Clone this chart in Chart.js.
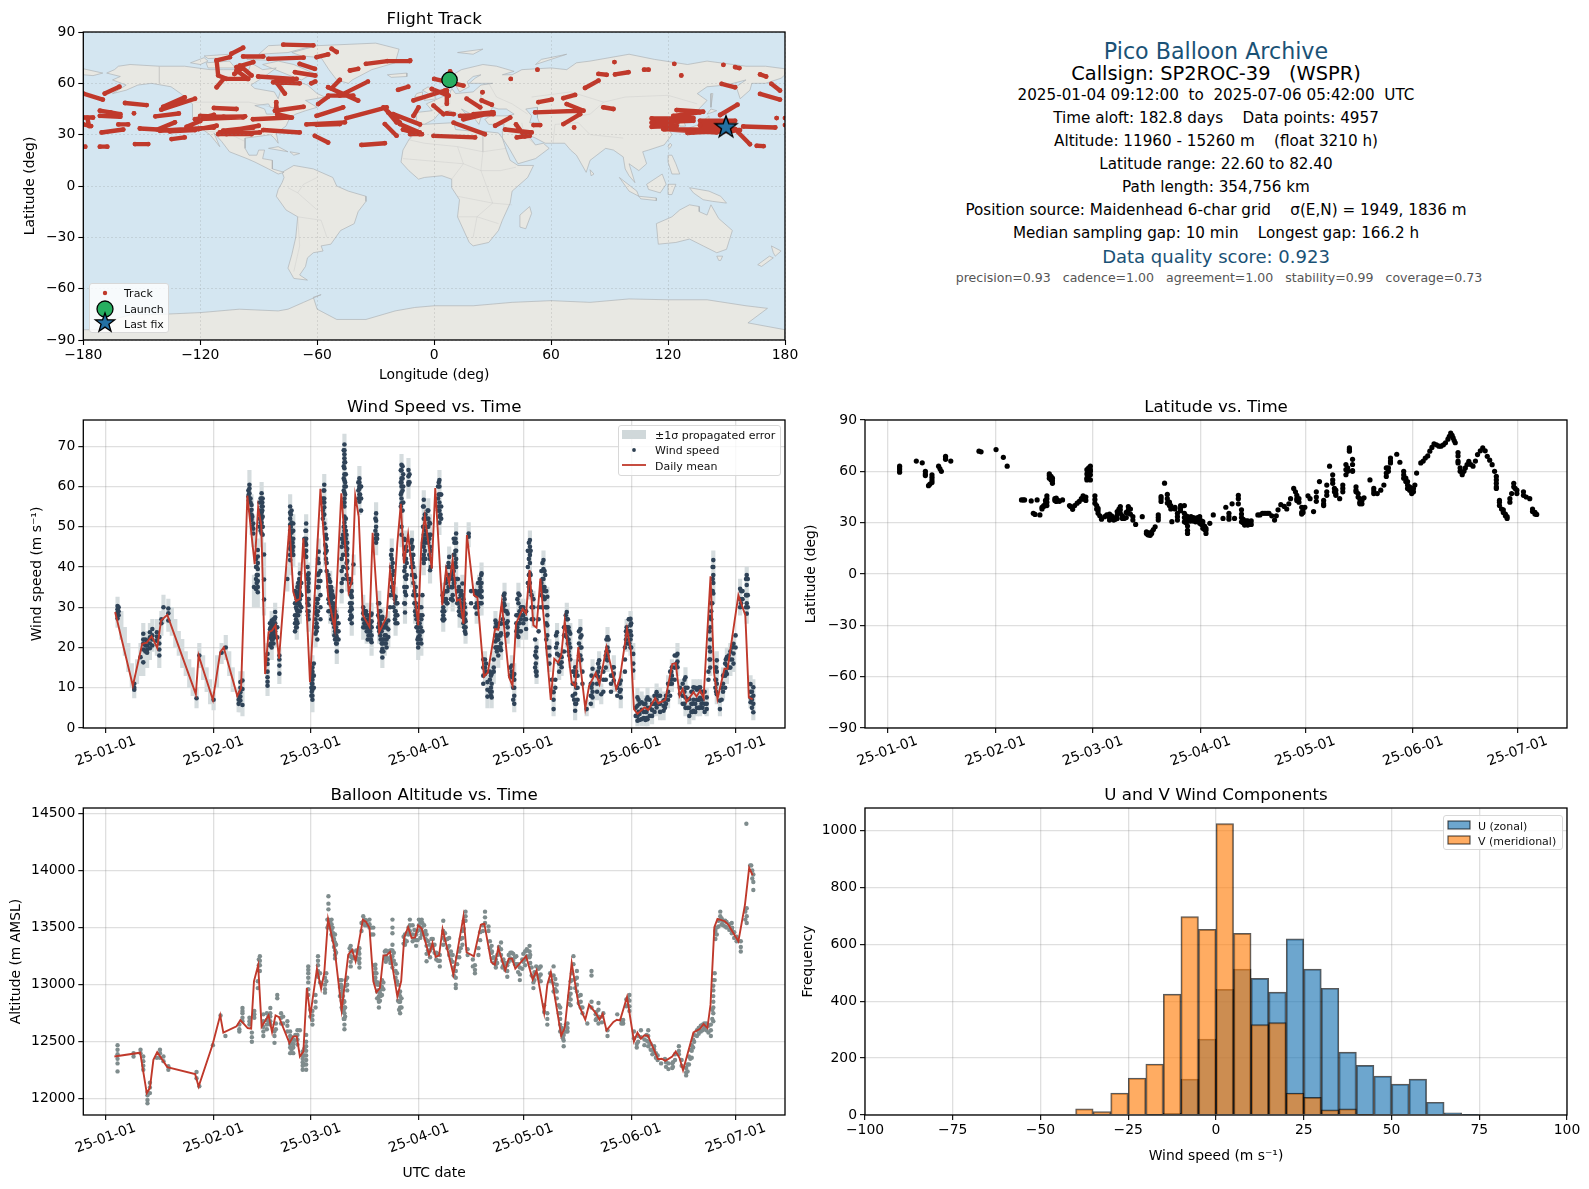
<!DOCTYPE html>
<html>
<head>
<meta charset="utf-8">
<title>Pico Balloon Archive</title>
<script src="https://cdn.jsdelivr.net/npm/chart.js@4/dist/chart.umd.min.js"></script>
<style>
  html, body { margin: 0; background: #fff; }
  body { position: relative; width: 1589px; height: 1189px; overflow: hidden; font-family: "DejaVu Sans", sans-serif; color: #000; }
  canvas { position: absolute; display: block; }
  .info { position: absolute; left: 865px; width: 702px; text-align: center; white-space: pre; transform: translateY(-50%); }
  .legend { position: absolute; z-index: 5; background: rgba(255,255,255,0.8); border: 1px solid #d8d8d8; border-radius: 3px; box-sizing: border-box; }
  .legend div { position: absolute; white-space: pre; transform: translateY(-50%); color: #111; }
  .legend svg { position: absolute; overflow: visible; }
</style>
</head>
<body>
<canvas id="mapChart" width="800" height="378" style="left:0;top:6px"></canvas>
<canvas id="windChart" width="800" height="382" style="left:0;top:394px"></canvas>
<canvas id="latChart" width="789" height="382" style="left:800px;top:394px"></canvas>
<canvas id="altChart" width="800" height="403" style="left:0;top:782px"></canvas>
<canvas id="histChart" width="789" height="383" style="left:800px;top:782px"></canvas>

<div id="infoPanel"></div>

<div class="legend" style="left:89px;top:283px;width:80px;height:50px;font-size:11px">
  <svg width="30" height="50" style="left:0;top:0">
    <circle cx="15" cy="9" r="2.2" fill="#c0392b"/>
    <circle cx="15" cy="25" r="8" fill="#27ae60" stroke="#000" stroke-width="1.3"/>
    <polygon points="15,29 17.4,35.8 24.6,35.9 18.9,40.3 21,47.2 15,43.1 9,47.2 11.1,40.3 5.4,35.9 12.6,35.8" fill="#2471a3" stroke="#000" stroke-width="1.3"/>
  </svg>
  <div style="left:34px;top:9px">Track</div>
  <div style="left:34px;top:25px">Launch</div>
  <div style="left:34px;top:40px">Last fix</div>
</div>

<div class="legend" style="left:618px;top:425px;width:163px;height:51px;font-size:11px">
  <svg width="30" height="50" style="left:0;top:0">
    <rect x="3" y="4" width="24" height="9" fill="#d0d8da"/>
    <circle cx="15" cy="24" r="1.9" fill="#2c3e50"/>
    <line x1="3" y1="39" x2="27" y2="39" stroke="#c0392b" stroke-width="1.8"/>
  </svg>
  <div style="left:36px;top:9px">±1σ propagated error</div>
  <div style="left:36px;top:24px">Wind speed</div>
  <div style="left:36px;top:40px">Daily mean</div>
</div>

<div class="legend" style="left:1443px;top:815px;width:120px;height:35px;font-size:11px">
  <svg width="30" height="35" style="left:0;top:0">
    <rect x="4" y="5" width="22" height="8" fill="rgba(31,119,180,0.65)" stroke="rgba(0,0,0,0.65)" stroke-width="1.2"/>
    <rect x="4" y="20" width="22" height="8" fill="rgba(255,127,14,0.65)" stroke="rgba(0,0,0,0.65)" stroke-width="1.2"/>
  </svg>
  <div style="left:34px;top:10px">U (zonal)</div>
  <div style="left:34px;top:25px">V (meridional)</div>
</div>

<script>
const monthDays = [0, 31, 59, 90, 120, 151, 181];
const monthLabels = ["25-01-01", "25-02-01", "25-03-01", "25-04-01", "25-05-01", "25-06-01", "25-07-01"];
const lonTicks = [-180, -120, -60, 0, 60, 120, 180];
const latTicks = [-90, -60, -30, 0, 30, 60, 90];
const windTicks = [0, 10, 20, 30, 40, 50, 60, 70];
const altTicks = [12000, 12500, 13000, 13500, 14000, 14500];
const histXTicks = [-100, -75, -50, -25, 0, 25, 50, 75, 100];
const histYTicks = [0, 200, 400, 600, 800, 1000];

// text panel: text, font px, centre y, colour, x nudge
const infoLines = [
  ["Pico Balloon Archive", 22.2, 51, "#1a5276", 0],
  ["Callsign: SP2ROC-39   (WSPR)", 19.4, 72.5, "#000", 0],
  ["2025-01-04 09:12:00  to  2025-07-06 05:42:00  UTC", 15.2, 95, "#000", 0],
  ["Time aloft: 182.8 days    Data points: 4957", 15.2, 118, "#000", 0],
  ["Altitude: 11960 - 15260 m    (float 3210 h)", 15.2, 140.5, "#000", 0],
  ["Latitude range: 22.60 to 82.40", 15.2, 164, "#000", 0],
  ["Path length: 354,756 km", 15.2, 187, "#000", 0],
  ["Position source: Maidenhead 6-char grid    σ(E,N) = 1949, 1836 m", 15.2, 210, "#000", 0],
  ["Median sampling gap: 10 min    Longest gap: 166.2 h", 15.2, 233, "#000", 0],
  ["Data quality score: 0.923", 18, 256, "#1a5276", 0],
  ["precision=0.93   cadence=1.00   agreement=1.00   stability=0.99   coverage=0.73", 12.55, 277, "#555", 3]
];

// coastlines, lon/lat pairs
const northAmerica = [[-168,66],[-164,68],[-162,70],[-156,71],[-141,70],[-128,70],[-115,68],[-108,68],[-95,68],[-94,72],[-88,68],[-81,69],[-87,64],[-94,59],[-92,57],[-82,55],[-80,51],[-79,55],[-77,60],[-78,62],[-70,61],[-65,59],[-60,54],[-56,52],[-66,50],[-60,46],[-66,44],[-71,42],[-74,40],[-76,35],[-81,31],[-80,25],[-82,28],[-84,30],[-90,29],[-97,28],[-97,22],[-95,18],[-91,18],[-90,21],[-87,21],[-88,16],[-83,15],[-83,10],[-80,9],[-77,8],[-80,7],[-85,10],[-92,14],[-96,16],[-105,20],[-109,26],[-113,31],[-110,23],[-115,30],[-120,34],[-124,40],[-124,48],[-130,54],[-135,58],[-145,60],[-152,59],[-158,56],[-165,54],[-158,59],[-165,62],[-161,64],[-168,66]];
const baffin = [[-80,73],[-72,71],[-62,66],[-68,62],[-75,65],[-88,71],[-80,73]];
const victoria = [[-117,72],[-105,73],[-102,69],[-116,69],[-117,72]];
const banks = [[-125,72],[-118,75],[-116,73],[-120,71],[-125,72]];
const ellesmere = [[-90,77],[-85,82],[-68,83],[-62,82],[-75,78],[-90,77]];
const devon = [[-96,76],[-80,75],[-85,73.5],[-96,74],[-96,76]];
const melville = [[-118,76],[-105,77],[-105,75],[-116,74.5],[-118,76]];
const greenland = [[-73,78],[-60,82],[-30,83.5],[-18,80],[-20,72],[-32,68],[-42,62],[-44,60],[-50,62],[-54,68],[-58,75],[-68,76],[-73,78]];
const southAmerica = [[-78,8],[-72,12],[-62,10],[-52,5],[-50,0],[-44,-3],[-35,-6],[-35,-9],[-39,-15],[-41,-22],[-48,-26],[-53,-34],[-58,-35],[-57,-38],[-62,-39],[-65,-42],[-66,-47],[-69,-52],[-65,-55],[-72,-54],[-75,-48],[-73,-40],[-71,-30],[-70,-18],[-76,-14],[-81,-6],[-80,-2],[-78,2],[-77,5],[-78,8]];
const africa = [[-6,36],[10,37],[11,33],[20,32],[25,32],[33,31],[35,28],[37,21],[39,15],[43,12],[51,12],[48,5],[40,-3],[39,-10],[35,-20],[33,-26],[28,-33],[20,-35],[18,-33],[12,-18],[13,-8],[9,-1],[9,4],[4,6],[-5,5],[-8,4],[-13,9],[-17,14],[-16,21],[-13,27],[-9,32],[-6,36]];
const eurasia = [[-9,37],[-9,43],[-1,44],[-4,48],[2,51],[8,54],[9,57],[11,54],[20,55],[24,59],[30,60],[22,60],[18,60],[21,63],[24,65],[20,64],[17,61],[18,58],[13,55],[11,59],[6,58],[5,62],[14,68],[25,71],[32,70],[41,67],[35,65],[40,65],[45,68],[60,69],[68,68],[73,72],[80,73],[100,77],[113,74],[130,71],[140,73],[160,70],[170,70],[180,68.5],[180,65],[178,63],[170,60],[163,60],[162,56],[157,51],[155,58],[160,62],[150,59],[140,58],[135,54],[140,50],[135,44],[130,42],[128,38],[129,35],[126,35],[125,39],[121,39],[118,39],[122,37],[120,34],[122,30],[118,24],[110,21],[107,20],[109,13],[105,9],[100,13],[103,2],[100,6],[98,10],[97,17],[92,21],[88,22],[80,15],[78,8],[73,18],[70,21],[67,25],[57,25],[52,28],[48,30],[52,24],[56,25],[59,22],[52,16],[43,13],[39,21],[35,28],[35,32],[36,36],[28,36],[26,39],[29,41],[38,41],[41,42],[37,45],[33,45],[30,46],[28,42],[24,40],[23,36],[19,42],[14,45],[18,40],[16,38],[12,42],[8,44],[3,43],[0,39],[-5,36],[-9,37]];
const chukotka = [[-180,68.5],[-170,66],[-175,64.5],[-180,65],[-180,68.5]];
const britain = [[-5,50],[1,51],[0,54],[-3,58],[-6,56],[-3,54],[-5,50]];
const ireland = [[-10,52],[-6,52],[-6,55],[-9,54],[-10,52]];
const iceland = [[-24,65],[-14,66],[-14,64],[-22,63.5],[-24,65]];
const honshu = [[130,31],[136,34],[141,36],[141,41],[140,40],[136,36],[131,34],[130,31]];
const hokkaido = [[140,42],[145,44],[142,45],[140,42]];
const sakhalin = [[142,46],[143,54],[142,54],[142,46]];
const borneo = [[109,1],[117,7],[119,1],[116,-4],[110,-2],[109,1]];
const sumatra = [[95,5],[104,-3],[105,-6],[100,-3],[95,5]];
const java = [[105,-6],[114,-7],[114,-8.5],[106,-7.5],[105,-6]];
const sulawesi = [[120,1],[124,1],[122,-5],[120,-5],[120,1]];
const newGuinea = [[131,-1],[141,-3],[147,-6],[150,-10],[143,-9],[138,-8],[133,-4],[131,-1]];
const philippines = [[120,18],[122,18],[124,13],[126,7],[122,7],[120,14],[120,18]];
const madagascar = [[49,-12],[50,-16],[47,-25],[44,-24],[44,-17],[49,-12]];
const sriLanka = [[80,9.5],[82,7],[80.5,6],[80,9.5]];
const taiwan = [[121,25],[122,24],[120.8,22],[120,23],[121,25]];
const australia = [[114,-22],[122,-18],[126,-14],[131,-11],[136,-12],[136,-15],[140,-17],[142,-11],[146,-19],[153,-26],[150,-37],[145,-39],[138,-35],[131,-31],[124,-33],[115,-34],[114,-22]];
const tasmania = [[145,-41],[148,-41],[147,-43.5],[146,-43.5],[145,-41]];
const newZealandN = [[173,-35],[178,-38],[175,-41],[174,-39],[173,-35]];
const newZealandS = [[172,-41],[174,-42],[168,-47],[166,-46],[172,-41]];
const cuba = [[-85,22],[-75,20],[-80,23],[-85,22]];
const hispaniola = [[-74,20],[-69,19],[-72,18],[-74,20]];
const svalbard = [[12,78],[25,80],[20,77],[12,78]];
const novayaZemlya = [[52,71],[68,77],[55,74],[52,71]];
const antarctica = [[-180,-84],[-172,-84],[-165,-78],[-155,-75],[-140,-75],[-120,-74],[-100,-72],[-80,-73],[-75,-72],[-67,-68],[-58,-63.5],[-62,-65],[-60,-72],[-50,-78],[-35,-78],[-20,-73],[-10,-71],[0,-70],[20,-70],[40,-68],[60,-67],[80,-68],[100,-66],[120,-66.5],[140,-66.5],[160,-70],[171,-71.5],[161,-80],[180,-84],[180,-90],[-180,-90],[-180,-84]];
const landShapes = [northAmerica, baffin, victoria, banks, ellesmere, devon, melville, greenland, southAmerica, africa, eurasia, chukotka, britain, ireland, iceland, honshu, hokkaido, sakhalin, borneo, sumatra, java, sulawesi, newGuinea, philippines, madagascar, sriLanka, taiwan, australia, tasmania, newZealandN, newZealandS, cuba, hispaniola, svalbard, novayaZemlya, antarctica];
const caspian = [[47,45],[53,46],[53,40],[54,37],[49,37],[50,41],[47,45]];
const greatLakes = [[-92,47],[-85,48],[-84,46],[-80,45],[-79,43],[-83,42],[-86,42],[-87,45],[-92,47]];
const countryLines = [[-123,49],[-95,49],[-83,46],null,[-141,70],[-141,60],null,[-117,32],[-106,31],[-97,26],null,[-70,-18],[-58,-20],[-55,-30],null,[-70,-18],[-69,-35],[-72,-50],null,[-75,-1],[-70,-4],[-60,-14],null,[-60,5],[-67,1],[-70,-4],null,[-13,27],[-5,25],[12,23],[25,20],[37,22],null,[25,32],[25,20],[24,9],[30,-10],[22,-18],[20,-30],null,[-16,16],[15,13],[24,9],[34,9],[42,11],null,[9,4],[15,13],[12,23],null,[12,-6],[30,-10],[40,-11],null,[12,-18],[22,-18],[33,-22],null,[-2,44],[8,48],[8,54],null,[24,55],[24,44],null,[28,60],[32,52],[40,48],[48,42],null,[50,52],[70,55],[87,49],[98,52],[120,53],[135,48],null,[70,40],[80,42],[87,49],null,[62,36],[74,37],[80,30],[97,28],null,[62,36],[61,25],null,[45,37],[46,30],null,[37,32],[46,30],[52,24]];

// track pieces, each a run of lon,lat pairs read along the trail
const trackSegments = [
  [-180,54,-170,50.5],[-169,54,-161.5,58],[-158.6,48.5,-147.5,47.3],[-171.5,44,-166,43,-161,42],[-171.5,41,-161,40.5],[-180,40,-175,40],[-180,36,-176,35],[-178,40,-177,35],
  [-154,42.5],[-170.6,31.3,-159.5,33],[-162,36,-157,36],[-179,23],[-171.5,23,-167.7,23],[-153.5,24.5,-146.7,24.5],[-134.7,27.4,-128,28.4],[-151,33.6,-142,33,-133,37.2],
  [-143,40.7,-131,42.4],[-140,44.6,-122.7,51],[-139,46.3,-128,51.8],[-140.7,32.3,-113,34.2],[-127,34.6,-120,38],[-122.7,39,-113,41.6],[-120,41,-108,40.5,-97,40.7],
  [-113,45.6,-101.4,45],[-110,31.3,-90,35.2],[-106.5,30.3,-93.7,30.3],[-93,39,-74,40],[-87.7,32.7,-69,31.3],[-81.7,44,-67,46.3],[-81,49,-81,46],[-80.5,42,-73,40],
  [-80.5,60,-76.6,54],[-82.6,60.6,-69,60],[-90.3,64,-72.3,62.6],[-77.4,82.6,-62,82.2],[-85,74.3,-67,75],[-98,75.7,-87.7,75.7],[-104,77.3,-98,80.8],
  [-111.6,73.4,-110.8,64.6,-106.5,62.6,-96,62.6],[-111.6,57.7,-108,62.6],[-111.6,73.4,-104.8,75.3],[-101.4,69.5,-92.8,72.4],[-99.7,70.4,-93.7,64.6],[-102.5,65.5,-99,68.5],
  [-69,71.4,-61.2,68.5],[-71.4,66.5,-61,64.6],[-63,60,-61,61],[-60.3,75.3,-54.4,76.9],[-52.6,80.2,-50,78.3],[-35,71.4,-24,73,-12.5,73],[-43.2,67.5,-39,68.5],
  [-59.5,47.9,-54.4,52.2],[-54.4,57.7,-39,49.9],[-54.4,52.8,-41.5,52.8],[-48.4,62,-52.7,57],[-48.4,52.8,-34,61],[-18.5,56.2,-13.3,58],[-60.3,41,-46.7,46],[-65.5,36,-45.8,37.2],
  [-61.2,29.3,-54.4,25.4],[-45,39.7,-24.4,46],[-37.3,24,-25.3,25],[-25.3,36.2,-19.3,29.4],[-26,46,-17.6,37],[-21,42,-7.3,36],[-16,33,-7.4,30.3],
  [-12.3,30.3,-6.3,30.3],[-0.3,29.3,21,28.4],[0,62.6,15,58.7],[-10.6,50,5.6,55.8],[-1.2,56.7,7.4,52.8],[6.5,55.8,6.5,48],[-0.3,47,4.8,42],[-10.6,41,-8,46],[6.5,42.4,10,42],
  [16.7,51,23.6,46],[24.4,50,29.6,47.5],[15,39,30.4,43],[10,37,26,30.3],[31.3,35.2,39,40],[36.4,33,50,31.3],[42,36,46.5,29],[42.4,28.4,49,29.3],[51,35.6,54.4,35.6],
  [51.8,43,74.9,44],[53.5,49,60.3,50.5],[66.3,51.3,72.3,53.2],[68,47.9,76.6,44],[66.3,36.2,74.9,42],[71.8,34.2],[77.4,57.3,84.3,61.6],[84.3,65.5,88.5,65],[92.8,65.2,99.7,66.5],[86.8,46,92,45],
  [92.5,72.4],[107.7,68,110,68],[39.3,62.6],[53,68],[24.8,54.8],[123.2,71.4],[126.8,64.6],[148.4,70.8],[154.4,69.5,156.6,68.9],[167.2,65.2,170.3,64],[147.5,59.7,154.4,57.7],[173,59.7,177.4,55.8],[167.2,53.8,177.4,50.5],
  [146.7,41.5,155.6,47.5],[111.6,39.5,133,39.7],[111.6,37,125,37.5],[111.6,34.6,124.4,35.2],[122.7,41,136.4,43],[124.4,44.4,138,43.4],[118.5,33.2,145,31.3],[130,31,154.4,33.2],[136.4,38.1,154.4,38.1],[136.4,35.5,150,35.5],
  [154.4,33.2,162,24.4],[165.5,23.5,169,23.3],[158.6,34.8,175,34.2],[175.7,39.7],[180,39.7],[180,35.6],[-12.3,73.4],[8.2,67],
  [-135.6,31.9,-122.7,32.7],[-121,33.2,-111.6,35.2],[-110.8,30.3,-89.4,31.3],[-108.2,32.3,-92.8,34.2],[-120.2,39.1,-98,40.1],[-23.6,43,-19.3,37.2],[-17.6,36.2,-7.4,31.3],[-101.4,67.5,-95.4,62.6],[-80.9,61.6,-70.6,62.6],[-60.3,35.8,-48.4,36.2],
  [112.5,37.2,133,38.1],[117.6,33.2,156.9,32.7],[133,31.3,153.5,32.3],[13.3,41,30.4,42],[20.2,42,29.6,43]
];
const launchPoint = [7.9, 62];
const lastFixPoint = [149.7, 34.6];

// wind speed: [day, values...] read per burst of points
const windDots = [
  [3.4,30.3,29.5,28.7,28,27.2],[3.7,30,29,28],[8.2,11,10,9.5],[10,17.6],[10.8,23.4,22,21,19.5,16.3],[11.4,22,20.5,19],[11.9,21.7,20.5,19.5,18.7],[12.7,23.8,22.5,21,19.8],[13.4,24.6,23,22,20.5],[14.7,23.8,22.7,21.7],[15.4,22.6,21,19.5,18],[16,27,26],[16.6,30],[18,29.7,28.5,26.7],
  [26.1,7.4],[26.9,18],[31,7],[33.3,18.7],[34.5,20],[38.2,8,7,6],[38.7,11.4,10,8.9,7.8,6.8],[39.3,11.8,9.7,5.7],
  [41,59,57.5],[41.3,60.4,59.5,58.3,57],[41.6,57,56,54],[41.9,55.4,54.2,53,51.7],[42.1,52.5,50],[42.4,50.8,49.5,48.3],[42.6,35],[43.2,42,40,37,34.5],[43.7,44.2,42.6,41,39.5,38,36.5,35,33.7],[44.2,56,54,52,50],[44.8,58.3,57,56,55,53.5,52,51,50,48.3],[45.1,57,55,52.5,50,48],[45.5,43.1,36.9,31.9],
  [46.5,18.4,17,15.9,14,12.6,11.5,10.5],[47.2,26,24.5,22.5,20.5],[47.7,26.7,25.8,25,24,23,22,21,20],[48.2,27,25,23,21],[48.7,28.8,27.5,26,25,24,22.6],[49.3,25,22.5],[49.9,18,17,15.5,13.5],
  [52.2,37],[53,55,53.5,52,50.5,49,47.5,46,44.5,43,41.7],[53.4,54,51,48.5,46,44],[53.9,50.8,49,47,45,43],[54.4,34,31,28,26,24],[54.9,33.4,32,31,29.5,28,26.5,25],[55.3,36,33,31,28],[55.8,38.4,36.5,35,33.5,32,30.5,29],[56.2,36,33,30],[57.1,47,45.5,43],[57.6,50.8,49,47,45.5,44,42.5],[58,40,37,34,31,29],[58.3,38.4,37,36,34,32,30.5,29,27],[59.1,14,12.5,10,8],[59.4,15,14,13,12,11,9.5,8,7],[59.8,16,13,10],[60.3,30,28.5,27,25,23.4],[60.8,35,31,28,25,22],[61.2,43.8,41,38.4,36.5,35],[61.7,39,36.5,33,30,27],
  [62.4,57,54,52],[62.8,60.4,59,57,56,54.8,53,50.8],[63.1,49.6,47.5,45.5,43.4],[63.5,47,44,41,39],[64,38,35,32,29],[64.5,36.3,35,33,31,29],[65,34,31,28],[65.4,32.5,31,29,27.5,26],[65.9,29,27,24,22],[66.4,27.6,26,24,22.5,21,19],[66.9,26,24,22],
  [68.6,70.4,69,68,67,66,64.5,63,61.5,60,58.5,57,56,55,52.5,51,49,47.5,46],[69,63,60,52,49,47,45],[69.4,46,44.5,43,41.5,39.7,37],[67.8,47,45,42,39,36,34],[68.2,48,46,43,40,37],[70.2,37,34,31,29,27],[70.7,34,32.5,31,29.5,27.6,26],[71.2,40.6],[72.9,62,61,60,59.4,58,57,56.2],[73.4,60,57,54],
  [74,30,28.5,27,25],[74.5,29,27,25],[75,28,26,24],[75.5,27,25,23],[76,26,24,22],[76.4,28.4,26.5,25,23,21.3],[77.7,53.3,51.5,50,48,46],[78,48,47],[78.6,31,29,27.5,26,24],[79,27,25,22],[79.5,27.6,25,22,21,19.7,17.5],[80.2,25,23,21],[80.7,25,22,20],[81.2,26.7,24.5,22.6],[81.7,33,30],[82.2,44.2,42,40,38,35],[82.7,39,36,33,30],[83.3,32.6,31,29,28,26],[83.8,31,28,26],[85,65.4,64,62,61,60,58.5,57,55.8,50,48],[85.5,63,60,56],
  [86,46.7,44.5,42,40,37.5,33.8,30.9,28.7],[86.5,44,41,38,35],[87,64.1,62.5,61,60.4],[88,46.7,44.5,42,40,38],[88.4,43,40,36,33],[88.9,37.5,35,33,31,29],[89.3,33,30,27,25],[89.8,27.6,26,24,22.5,21,20],[90.2,30,26,23],[90.7,30,27,24,21],[91,33,28,24],[91.4,56.7,55,52,50,48,46.5,45,43,41],[91.9,53,49,46,42],[92.7,54,52,50,48,46],[93,51,47,43],[93.2,50.8,48,45,42,39.2],
  [95.5,60,57,54],[95.9,61.6,60,58,56,54,52.5,51],[96.4,58,55,52],[96.8,33,29,27],[97,33.4,31.5,30,28,26.7],[97.8,36,34,32],[98.2,40,37,34,31],[98.7,42.5,40,37,35],[99.2,38,35,32],[99.7,39,37,35,33,31.7],[100.2,46,43,40,36],[100.7,48.3,46,44,42,40,37],[101.2,37,34,31],[101.7,34,32,30,28],[102,33,30,28],[102.5,35.9,33,30,27.6],[103,31,28,25],[103.4,28.4,26.5,25,23.4],[104.3,48.3,47.5],
  [105,34,31],[106.2,34,30],[106.6,33.4,31,28.4],[107.3,36,34,31],[107.7,35,31],[108,38.4,36,34,32.5,31],[108.5,17,15,13,11],[109,17,15,13.4],[109.7,11.4,9.5,7.8],[110.4,14,12,9],[110.9,13.4,11,9,7.6],[111.5,17,15,14],[112,26.7,25,23,21.5,20],[112.4,25,22,19],[112.8,22,20,18],[113.2,26,23,20],[113.6,25.9,23.5,21,19.3],[114.1,30,27],[114.6,33.4,32,30.5,29.2],[115,29,26,23],[115.5,28.4,26.5,25,23.4],[116.2,15,13],[116.7,15.5,14,12.6],[117.4,13.4,12,10,8,6],
  [118,28,26,24],[118.6,33.4,31,28,26,24,22.6],[119.3,30,27,24],[120,30,28,26],[120.4,29,27],[120.8,29,27,24.6],[121.3,44,40,36],[121.9,46.7,45,43,41,38.4,36,34],[122.4,33,30,27],[122.9,32,30,27],[123.4,22,18,15],[123.8,20,17.5,14,13],[124.4,30,27,24],[125.2,39,36,33,30],[125.8,41.7,39.5,37,35,32.6],[126.3,38,34,30],[126.9,32.6,30,28,25.5,23,20],[127.5,20,18,16],[128.2,12,9],[128.7,8.9,7,4.7],[129.2,12,10],[129.7,23.8,21,18.4],[130.3,18,16,14],[131,17.6,16.3,15.1],[131.7,25,23,19],[132.5,28.8,27,25,22.6],[133,25,22,19],[133.5,23.4,20,17],[134.2,14,11,8],[134.9,15.1,13,11,8.5,6,4.3],[135.6,13,10,7],[136.4,24.6,22.5,20,18,16.8],[137,14,11],[138.2,4.7],[139.4,11,8,6],[139.9,14.7,11,9,7.6],[141.2,13,11,9],[141.8,16.8,15,12.6],[142.4,8.4],[143,14,12,9],[143.7,18,15,12],[144.2,22.6,20,18,16.8],[145.2,13,11,9],[146,15.1,13.5,11.8],[147,10,8],[148,11.8,9.5,7.6],[149.2,20,17,14],[149.7,25,23,21],[150.3,27,24,21],[150.8,27.1,25.5,24,22,20],[151.6,18.4,16,14.3],
  [152.3,5,3],[152.8,7.6,5.5,3,1.8],[153.4,6,3.5,2],[154,6.4,4.5,2.2],[154.6,6,4,2.5],[155.1,6,4,2],[155.7,7.6,5,2.2],[156.3,7,5,3],[157,6,4.5,3],[157.7,8,6,4],[158.3,8.9,7,5.1],[159.3,8,6,4],[160.3,6.8,5.5,4.3],[161,8,6],[161.6,11,9,7],[162.2,14,11,8],[162.7,15.1,13,11],[163.5,18,15,12],[164.3,18.4,16.5,15.1],[165,10,8.5],[165.8,11,8,6],[166.6,12.6,10,7.6,5],[167.2,10,7,5],[167.7,7.2,5,3],[168.3,9,6,4],[168.9,10.1,7,4.3],[169.4,10,6,4],[169.9,9.5,7,5],[170.4,10,7,5],[170.8,10.1,7.5,5.1],[171.5,9,7,5],[172.1,9,6,4],[172.7,7.6,6,4.7],[173.2,14,12],[173.7,27.6,25,22,19,17,15],[174,31,29,27],[174.3,37,34,31],[174.6,41.7,40,38,36,33.4],[175.2,15,12,10],[175.6,16.8,14,11,8.4],[176.5,6.8,4.7],[177,10,7],[177.4,13,11,9],[178,16,13,10],[178.5,17.6,15.5,13.4],[179,18,15],[179.5,19,17,15],[180.4,20.9,18.5,16],[181,23,20],[182.3,34.6,32,30],[183,34,32],[184.2,38,35.5,33,31,28.4],[185.3,10.9,9,7.5,6.4],[185.7,9,7,5],[186.1,10.1,8,6,3.9]
];
// more points from the thick parts of the same bursts
const windDotsThick = [
  [41.1,58,56.5],[43.4,40,38,36],[44.5,57,53,51,49],[45,56,54,50],[47.4,25,23,21],[48,26,24,22],[48.5,27,25,23],[53.2,53,50,47,45],[53.7,49,46,44],[54.7,33,30,27,25],[55.1,35,32,29,26],[55.6,37,34,31],[57.4,49,46,44],[58.1,38,35,32,28],[59.2,15,13,11,9],[60.6,32,29,26,24],[61,42,38,35,32,29],[62.6,59,56,53],[63.3,48,45,42],[64.2,37,34,31],[64.8,35,32,29,27],[65.2,33,30,27],[65.7,30,28,25,23],[66.2,28,25,23,21],[68.4,69,65,62,59,56,50,47],[68.8,66,61,58,50,48],[69.2,48,44,41,38],[70.5,36,33,30,28],[72.6,61,59,57],[73.1,60,58],[74.3,29,26],[74.8,29,26],[75.3,28,25,22],[75.8,26,24],[76.2,28,25,22],[77.5,52,49,47],[78.3,31,28,25],[78.9,29,26,23],[79.3,27,24,21,19],[79.8,25,22,19],[80.5,26,23,21],[82,43,40,37],[82.5,41,38,34],[83.1,32,29,27],[83.6,31,28],[84.8,64,61,58,55],[85.3,65,62,59,54],[85.8,47,43,39,35,31],[86.3,45,42,37,33],[87.3,63,61],[87.8,46,43,40],[88.2,45,41,38],[88.7,38,34,31],[89.1,35,31,28],[89.6,28,25,22],[90.5,28,25,22],[91.2,55,50,46,42],[91.7,53,47,44],[92.2,52,48],[92.5,54,50,47],[93.4,48,44,40],[95.7,61,58,55],[96.2,58,53],[97.3,32,29,27],[98,37,34,31],[98.5,41,38,35],[99.5,38,35,32],[100,47,43,39,36],[100.5,47,44,41],[101,37,34,31],[101.5,35,32,29],[102.2,34,31,28],[102.8,32,29,26],[103.2,30,27,24],[106.4,33,30],[107,36,33,30],[107.5,37,33],[107.9,38,34],
  [109.3,16,14],[110.7,13,10,8],[112.2,26,23,20],[112.6,25,22,20],[113.4,26,23,20],[114.4,33,31],[115.2,29,26,23],[117.1,13,10,7],[118.3,32,28,25,23],[118.9,33,29,26],[119.6,30,28],[121.6,46,42,38,35],[122.1,44,38,34],[123.6,19,16,14],[125.5,41,37,34],[126.1,39,35,32],[126.6,34,30,26,22],[129.4,23,20],[130.6,18,16],[132.2,28,25,23],[132.8,27,24,21],[133.2,24,21,18],[134.6,14,11,7],[135.2,14,10,6],[136,24,21,18],[136.7,23,20,17],[139.6,13,10,8],[141.5,16,14],[143.9,22,19,17],[144.5,22,19],[145.7,15,13],[147.7,11,9],[149.5,24,22],[150.5,27,24,21],[151,26,23,20],[153.1,7,4,2],[155.4,7,4,2.5],[158,8,6],[158.9,8,6],[160.7,7,5],[162.5,14,12],[164,18,16],[166.3,12,9,6],[168.6,9,6,4],[170.6,10,7,5],[171.2,9,6],[173.5,24,20,17],[174.4,40,37,34],[175.4,15,12,9],[178.2,17,14],[180,20,17],[182.6,34,31],[184,37,33,30],[184.5,37,33,30]
];
// error band: [day, low, high]
const windBand = [[3.4,25,32.5],[4.5,22,29],[5.5,18,25],[6.5,14,21],[7.5,10,16],[8.2,7.5,13],[9,11,17],[10,13,21],[10.8,13,26],[11.9,15,24],[12.7,17,26],[13.4,19,27],[14.7,18,27],[15.4,15,25],[16,23,29],[16.6,26,33],[18,24,32],[19,23,30],[20,20,27],[21,18,24],[22,15,22],[23,13,19],[24,10,17],[25,8,15],[26.1,5,10],[26.9,15,21],[28,12,18],[29,9,15],[30,6,12],[31,4.5,9],[32,10,18],[33.3,16,21],[34.5,17,23],[35.5,13,19],[36.5,9,15],[38.2,4,10],[38.7,4,14],[39.3,3,14],[41.3,55,64],[41.9,48,58],[42.4,45,53],[42.6,30,38],[43.7,30,47],[44.8,45,61],[45.5,28,46],[46.5,8,21],[47.7,17,29],[48.7,20,31],[49.9,11,20],[52.2,34,40],[53,38,58],[53.9,40,53],[54.9,22,36],[55.8,26,41],[57.6,40,53],[58.3,24,41],[59.4,4,18],[60.3,20,33],[61.2,32,47],[62.8,48,63],[63.1,40,52],[64.5,26,39],[65.4,23,35],[66.4,16,30],[67.8,31,50],[68.6,43,73],[69.4,34,48],[70.7,23,37],[71.2,38,43],[72.9,53,65],[74,22,33],[75,21,31],[76.4,18,31],[77.7,43,56],[78.6,21,34],[79.5,15,30],[80.2,18,28],[81.2,20,29],[82.2,32,47],[83.3,23,35],[85,45,68],[86,26,49],[87,57,67],[88,35,49],[88.9,26,40],[89.8,17,30],[90.7,18,33],[91.4,38,59],[92.7,43,57],[93.2,36,53],[95.9,48,64],[97,24,36],[97.8,29,38],[98.7,32,45],[99.7,29,42],[100.7,34,51],[101.7,25,37],[102.5,25,38],[103.4,21,31],[104.3,45,51],[106.6,26,36],[107.3,28,38],[108,28,41],[109,11,19],[109.7,5,14],[110.9,5,16],[111.5,11,19],[112,17,29],[112.8,15,24],[113.6,17,28],[114.6,27,36],[115.5,21,31],[116.7,10,18],[117.4,4,16],[118.6,20,36],[119.3,22,32],[120,23,32],[120.8,22,31],[121.9,32,49],[122.9,25,34],[123.8,11,22],[125.8,30,44],[126.9,18,35],[127.5,14,22],[128.7,3,11],[129.7,16,26],[130.3,12,20],[131,13,20],[132.5,20,31],[133.5,15,26],[134.9,2,17],[136.4,14,27],[138.2,3,7],[139.9,5,17],[141.2,7,15],[141.8,10,19],[142.4,6,11],[144.2,14,25],[146,9,18],[148,5,14],[149.7,19,27],[150.8,18,29],[151.6,12,21],[152.8,0.5,10],[154,0.5,9],[155.1,0.5,8],[155.7,0.5,10],[157,1,8],[158.3,3,11],[159.3,2,10],[160.3,2,9],[161.6,5,13],[162.7,9,17],[164.3,13,21],[165,6,12],[166.6,3,15],[167.7,1,9],[168.9,2,12],[169.9,3,12],[170.8,3,12],[172.7,3,10],[173.7,13,30],[174,25,33],[174.6,31,44],[175.6,6,19],[176.5,3,9],[177.4,7,15],[178.5,11,20],[179.5,13,21],[180.4,14,23],[182.3,28,37],[184.2,26,40],[185.3,5,13],[186.1,2,12]];
const windMeanDays = [2.7,7.8,10.5,11.8,13.2,14.8,15.9,17.7,25.9,26.7,30.8,32.9,33.9,37.8,38.9,40.7,42.8,43.8,44.7,45.8,46.8,47.8,48.8,49.8,52.8,53.9,54.7,55.8,56.8,58.7,61.7,63.9,65.8,67.7,69.8,70.8,71.7,72.7,73.9,75.8,76.7,78.6,80.7,81.7,82.8,83.8,84.8,85.7,86.9,89.8,90.7,91.7,93.7,94.7,96.7,97.8,98.7,99.7,100.9,101.8,102.8,103.8,105.8,106.8,108.7,109.8,111.9,112.8,113.8,115.9,116.9,117.9,119.8,120.8,121.8,122.9,123.8,124.9,127.9,128.9,130,130.9,131.9,133.9,134.9,135.8,137.8,138.9,140.8,141.9,143.9,146.7,147.8,149.8,150.9,151.8,152.8,154.8,155.9,157.9,158.8,160.8,162.8,163.8,164.9,165.8,166.9,168.9,169.8,170.8,171.8,173.8,174.8,175.8,177.8,178.7,181.8,183.8,184.8,185.9];
const windMean = [28.8,10.5,20.9,21.2,22.8,19.9,26.7,28.1,8.4,18,7,18.8,20,8,9.9,57.7,40.7,54.8,50.4,13.4,23.8,24.2,25.5,17.2,50.4,33.8,31.5,32.1,47.1,11.4,59.4,32.7,24.6,58.3,33.8,36.7,57.7,52.5,28,25.1,48.5,23.8,27.6,39.2,32.6,45.8,55.7,40.9,48.2,25.5,45.8,52.5,39.6,59.6,30.5,39.4,35.9,41.7,31.6,32,25.9,47.9,33,32.4,12.8,13.8,24.6,24.4,31.1,12.6,10.5,25.9,29.6,28.4,39.2,25.5,24.9,37.1,7,17.2,16.3,18,26.6,11.4,10.3,20.1,4.9,10.5,13.7,10.9,20.1,9.7,12.6,24.6,19.3,4.7,3.5,5.1,4.5,7.4,6.1,7,15.9,16.1,8,9.7,6.5,8.9,7.8,9.3,7.4,37.7,13.8,7.2,14.7,14.7,33,28,7.6,7.1];

// latitude: [day, values...]
const latDots = [
  [3.5,63,62,61,59.5],[8.3,66],[10,65],[10.9,60,58.5,57.5],[11.8,51.6],[12.2,52.5],[12.8,58,56.5,55,53.5],[14.7,63],[15.1,61.5],[15.5,60],[16.7,68.8,67.8,67],[18.2,66],[26.3,71.8],[26.9,71.4],[31.2,72.7],[33.3,68.2],[34.4,63],
  [38.5,43.3],[39,43.3],[39.4,43.3],[41.3,42.7],[41.9,35.5],[42.4,34.8],[43,43.3],[43.8,34.5],[44.4,39,38],[44.9,39.4,40],[45.4,43,41],[45.8,45.7,44,42,40],[46.5,58.6,57.5,56],[47,57,55],[47.4,56,54.5,53],[48.1,44,43],[48.5,44.3,42.4],[49,43],[49.4,42.5],[50.3,43.3],[52.3,40],[52.6,39.4],[53.2,37.8,39],[53.8,40],[54.5,41.4],[55.1,42.4],[55.7,44],[56.2,45.7,44.5,43.7],[57,45,43],[57.3,61,58.5,56,55],[57.8,62,59,56],[58.3,63,61,60,58,55],[59.6,45.7,43.5,41.4],[60.1,40,38],[60.5,38.4,37,35.5],[61,34],[61.5,32],
  [62.4,33.5],[63,34.5],[63.8,35,33,31.5],[64.4,34,32.5],[65,31.5],[65.5,33,32],[66,36.5,34.5,32.5],[66.5,38,36],[66.9,39.4,37.5,35.5],[67.5,34,32.5],[68,32.5],[68.6,36,33],[69.2,39.4,37.5,35.5],[69.8,38,35],[70.5,33.5,31.5],[71.3,29],[73.2,33.5],[74.4,24.7,23.7],[74.8,24,23],[75.1,23.7,22.8],[75.5,23.5,22.6],[75.9,24.7,23.7],[76.4,26],[76.9,27.6],[77.8,34.5,33,31.5],[78.6,45.3,44,42.4],[79.6,53.1],[80.4,46.5,44,41.5],[81,42,40],[81.4,40,38],[81.7,30.6],[82.6,39,38],[83.3,35.5,33.5,31.5],[84.2,40,38.5,37],[85.3,40,35.5,33,30.5],[85.8,34,32,30],[86.2,33.5,31,28,25.5,23.7],[86.7,33,31],[87.2,33.5,31],[87.9,33,31],[88.5,32.5,30.5],[89.1,33,31],[89.7,33.5,31.5,29.6],[90.2,31,29],[90.6,30.6,28.6,26.7],[91.1,28,26],[91.5,26.7,25.5,23.7],[92.6,29.6],[93.6,34.5],
  [96.4,32.5],[97.2,39],[98.1,35.5,33.5,32],[99,41],[99.7,32.5],[100.8,46,44,41],[101.7,37.5,35,33,30.5],[102.2,32,30],[102.6,30.6,28.6],[103,31,29],[103.5,31,28.6],[104,30,29],[104.5,31,29],[106.4,34.5],[107,34.5],[107.7,35.5],[108.2,35.5],[108.7,35.5],[109.2,35.5],[109.6,35.5],[110.4,34],[111.2,31.5],[111.7,34],[112.2,37.5],[113,40.5],[114,39.5],[114.7,38],[115.3,41],[115.8,44],[116.7,50],[117.2,48],[117.6,46,44,43],[118.2,44,42],[119,39,36,35],[119.4,38,36],[119.9,39],[120.8,45.7],[121.4,44],[122.4,36.5],[123.2,48,45,42.5],[124.1,54],[125.3,43,41,40],[126.2,52,48,46],[127,63],[127.9,58,55,53],[128.4,50,48],[128.8,49,47,46],[129.9,44],[130.8,52,50,48],[131.7,64,61,58],[132.2,62,60],[132.7,73.7,72.7,71.8],[133.6,67,64,60.5,60],[134.6,51,49,48],[135.2,47,45],[135.7,44,42,41],[136.3,43,41],[136.9,44.5],[138.6,55],[139.7,50,48.5,47],[140.7,47],[141.7,49],[142.6,52],[143.3,62,59,57],[143.9,62,60],[144.5,67.8,66,64.9],[146.3,70],[147.2,65.3],[148.3,60,58,56],[148.9,56,54],[149.4,54,52,50],[150,51,49],[150.6,50,48.5,47],[151.1,50,48],[151.5,52],[152,59],
  [153.2,64.9],[153.9,66],[154.5,67.8],[155.2,69],[155.8,71.8],[156.4,74],[157,76],[157.7,75.5],[158.4,74.7],[159,74.7],[159.7,75.5],[160.3,76.7],[161,78.8],[161.4,80.5],[161.8,82.4],[162.2,81],[162.5,79.5],[162.8,78],[163.1,76.7],[163.9,71,69,66,64.9],[164.5,62,60],[165.1,59,58],[165.6,60],[166,62],[166.5,64],[167,65.9],[167.6,64],[168.2,63],[168.9,66],[169.5,69.8],[170.3,72],[171,73.7],[171.7,72],[172.3,68.8],[173,66.5],[173.7,63.9],[174.4,60],[174.9,57,55,53,51,50],[175.8,43,42,40],[176.4,38],[176.9,37.5,36],[177.5,35,34],[178,33.5,32.5],[178.8,44,42],[179.3,47],[179.9,53,51],[180.3,50],[180.8,49,47],[182.7,48,46],[183.5,45],[184.5,44],[185.3,38,36.5],[186,36,35],[186.5,34.8]
];

// altitude: [day, values...]
const altDots = [
  [3.4,12470,12430,12390,12350,12310,12240],[8,12400,12370],[10,12430,12400],[10.8,12370,12330,12290,12255],[12,12060,12030,11990,11960],[12.7,12140,12100,12050],[14.7,12360],[15.6,12430,12400,12360],[16.6,12370,12330],[18,12285,12255],[26.1,12235,12180],[26.9,12110],[30.8,12470],[33,12730],[34.4,12550],
  [38.4,12650,12610,12590],[39.3,12795,12770,12750,12710,12680],[41.3,12710,12680,12650],[42,12580,12540,12500],[42.7,12770,12740,12710],[43.7,13030,12970],[44,13220,13170],[44.3,13250,13210,13170,13120],[45.3,12740,12680,12630,12590,12550],[46.3,12750,12690,12650,12610],[46.8,12720,12660],[47.3,12795,12750,12720,12680,12650],[48.5,12590,12550,12490],[48.9,12660,12610],[49.3,12910,12880],[50.4,12750,12710,12660],[51,12720,12660],[52.2,12680,12640,12590],[53,12590,12550,12520,12480,12450,12400],[53.4,12540,12490,12430],[53.9,12520,12480,12450,12400],[54.5,12560,12510],[55.1,12600,12560,12520,12475],[55.8,12600],[56.6,12415,12380,12350,12320,12290,12255],[57.1,12440,12380,12300],[57.6,12560,12500,12460,12420,12380,12340,12300,12255],[58.2,13160,13130,13100,13060,13020,12960,12910],[58.8,12780,12720],[59.4,12770,12730,12690,12650],[60.3,12910,12850,12800],[61,13250,13210,13170,13120,13070],[61.6,13100,13020],[63,13060,13000,12960,12930],[63.4,13100,13030],
  [64,13775,13710,13660,13570,13520],[64.5,13560,13500],[64.9,13570,13530,13480,13440],[65.4,13450,13390],[65.9,13440,13370,13300,13260,13230],[67.3,13040,12980,12900],[67.8,13040,12980,12920,12860,12800],[68.2,12900,12840,12760],[68.6,12850,12800,12750,12700,12650,12610],[69,13040,12990],[69.4,13060,13000,12950],[70.4,13340,13290,13250,13200,13160],[71,13290,13230],[72.4,13280,13220],[72.9,13320,13270,13230,13190,13150],[74,13600,13550],[74.5,13570,13520],[75,13560,13520],[75.8,13570,13530,13500],[76.9,13500,13440],[77.5,13175,13140,13100,13060,13030],[78,13000,12940,12880],[78.5,13000,12950,12900,12850,12800],[79,12960,12900],[79.4,13040,12980,12910],[80.5,13300,13250,13200],[81,13290,13230],[81.8,13300,13240,13190],[82.4,13570,13500,13450,13350,13300,13250,13200,13150],[83.3,13180,13120,13060],[84,13000,12930,12860],[84.6,12940,12900,12850,12800,12750],[86,13440,13390,13350],[87,13500,13440],[87.4,13570,13520,13470],[88.2,13520,13440,13380],[89.2,13440,13390,13340],[90,13570,13520],[90.4,13550,13480,13410],[90.8,13570,13500,13440],[91.5,13520,13440],[92.2,13440,13390,13340,13270,13205],
  [93.2,13350,13300,13240],[94,13400,13340],[95,13280,13220],[96,13260,13210,13160],[97,13560,13470,13410,13350],[97.5,13450,13390],[98.7,13410,13340,13260],[99.7,13260,13200],[100.6,13120,13060,13000,12970],[101.6,13290,13240],[102.5,13470,13410,13350],[103.4,13640,13600,13560],[104,13310,13260],[106.1,13170,13130,13100],[107.1,13320,13260],[107.6,13460,13390],[108.4,13520,13470],[109,13640,13590,13540],[110,13510,13470],[110.9,13340,13280],[111.5,13240,13190],[112.1,13220,13180,13150],[113,13330,13270],[113.6,13370,13310,13260],[114.3,13220,13170],[115.4,13170,13120,13070],[116.3,13280,13230],[117.1,13270,13210],[118,13250,13180],[119,13150,13090,13040],[119.7,13220,13140],[120.5,13290,13220,13170],[121.2,13300,13240],[121.8,13340,13290,13240],[122.4,13150,13080],[122.9,13070,13020,12970],[123.7,13160,13090],[124.4,13140,13060],[125,13160,13090,13030],[126,12820,12760],[126.9,12750,12700,12650],[127.7,13100,13030],[128.7,13160,13080,13010,12940],[129.6,13000,12940,12880],[130.2,12820,12750],[130.6,12800,12750,12700,12650,12590],[131.1,12620,12560],[131.6,12560,12510,12460],[132.2,12650,12590],[132.7,12660,12620,12590],[133.6,13030,12970,12920,12870,12820],[134.4,13250,13180],[135.4,13120,13060,13000,12940],[136.5,12910,12850,12800],[137,12800,12750],[138.4,12660],[139.6,13120,13080,12850,12800],[140.8,12740,12690],[141.6,12840,12780,12720,12660],[142.6,12720,12670],[143,12750],[144.2,12600,12550],[147,12740],[148.7,12660,12690],[149.6,12870,12810],[150.5,12910,12860,12810,12770],[151.8,12590,12530],[152.6,12480,12450],[153.8,12600,12540],[154.8,12520,12470],[155.9,12600,12550,12500,12460],[156.6,12480,12430],[157.6,12460,12430,12400],[158.6,12380,12340],[159.6,12310],[160.7,12350],[161.7,12310,12260],[162.8,12270,12310],[163.6,12390,12340],[164.7,12460,12420,12390],[165.5,12340,12290],[166.8,12270,12230,12205],[167.6,12370,12300],[168.4,12470,12420,12360],[169.1,12560,12500],[169.9,12600,12550],[171,12640,12590],[172,12660,12620],[173.2,12640,12580],[173.9,12650,12600,12550],[174.6,13040,12990,12950,12900,12850,12800,12750,12680],[175.6,13500,13440],[176.1,13560,13510],[176.6,13640,13600,13570],[177.4,13560,13520],[178.4,13550,13500],[179.2,13530,13480],[179.9,13540,13490,13450],[180.6,13460,13410],[181.3,13420,13380],[182.5,13380,13330,13290],[184.1,14410],[184.2,13670,13600,13540],[185.2,14045],[185.5,14045],[186.1,13965,13900,13830]
];
const altDotsThick = [
  [63.7,13570,13500],[65.2,13500,13420],[65.6,13400,13330],[66.2,13350,13280],[67.6,13000,12900],[68,12950,12860,12780],[68.4,12860,12780,12700],[68.8,12800,12720],[70.1,13320,13250],[70.7,13300,13240],[72,13300,13240],[72.7,13290,13220],[73.5,13540,13470],[76.3,13500,13440],[77.2,13170,13100],[77.8,13100,13020],[78.2,13020,12950,12880],[78.8,13000,12930,12860],[79.8,13020,12960],[80.2,13290,13230],[81.4,13290,13220],[82.1,13300,13230],[82.8,13280,13210],[83.7,13100,13030],[84.3,12920,12850,12780],[85,12880,12800],[85.6,13420,13360],[86.5,13450,13380],[88.7,13480,13400],[89.6,13470,13390],[91,13540,13460],[91.9,13470,13400],[92.6,13380,13300],[93.6,13400,13320],[94.5,13350,13280],[95.5,13270,13210],[98.2,13400,13320],[99.2,13290,13220],[100,13150,13080],[101,13240,13180],[102,13400,13320],[102.9,13560,13490],[105.5,13220,13160],[110.4,13380,13320],[111,13290,13230],[112.5,13260,13190],[114,13210,13150],[114.8,13190,13130],[115.8,13260,13200],[116.7,13280,13220],[117.6,13240,13180],[118.5,13180,13110],[120,13270,13200],[121,13310,13250],[122,13260,13190],[123.2,13110,13040],[124.7,13150,13080],[129.2,13050,12960],[131.4,12600,12530],[133.2,12900,12830],[134,13100,13040],[134.9,13050,12970],[135.9,12900,12840],[141,12760,12700],[148.2,12690,12660],[150,12880,12820],[153,12550,12500],[155.4,12560,12510],[157.1,12430,12390],[158.1,12400,12360],[161,12320,12280],[163,12320,12280],[167.2,12300,12240],[168,12430,12350],[168.8,12520,12450],[170.4,12620,12570],[171.5,12650,12600],[172.6,12660,12600],[174.3,12780,12700],[175,13040,13100],[175.2,13400,13470],[177,13580,13530],[178,13560,13510],[180,13500,13470],[183.8,13640,13570],[185.8,14000,13930]
];
const altMeanDays = [2.5,9.9,11.8,12.7,13.7,14.8,17.7,25.7,26.7,30.7,32.9,33.8,37.6,38.7,40.8,41.8,42.6,43.8,44.8,46.8,47.8,48.8,49.8,52.8,53.9,54.9,55.8,56.8,57.8,58.8,60.7,61.9,62.8,63.9,65.8,67.8,69.7,70.8,71.8,73.9,74.8,75.8,76.9,77.8,78.8,79.8,80.7,81.7,83.8,84.9,85.8,86.9,87.9,88.9,89.8,90.8,92.9,93.9,94.8,95.8,96.8,99.9,102.8,103.7,105.8,107.8,108.8,110.8,111.8,112.8,114.8,115.8,116.8,117.7,120.8,122.7,123.8,126,126.9,127.9,130.9,131.9,133.9,135.9,137.8,138.9,140.8,141.9,142.8,143.9,145.9,146.9,147.8,149.8,151.8,152.8,153.8,154.8,155.8,158.7,159.8,160.8,162.8,163.8,164.9,165.9,168.9,170.8,171.8,172.9,173.8,174.9,175.8,177.9,178.9,181.8,183.7,184.9,185.9];
const altMean = [12371,12404,12050,12094,12342,12409,12278,12216,12108,12474,12731,12579,12635,12690,12620,12614,13029,13170,12632,12731,12585,12731,12716,12488,12547,12547,12371,12415,12971,12731,13140,12965,13102,13573,13307,12778,13263,13304,13205,13570,13550,13497,13029,12933,12971,13257,13257,13287,12898,13029,13418,13503,13409,13415,13518,13491,13263,13365,13243,13257,13488,13088,13599,13284,13249,13526,13535,13196,13175,13322,13126,13228,13228,13140,13249,13044,13126,12751,13000,13108,12553,12620,13190,12825,12693,12825,12751,12693,12743,12599,12673,12693,12687,12892,12503,12579,12526,12556,12553,12348,12351,12333,12371,12415,12357,12251,12582,12614,12655,12620,12825,13503,13576,13556,13526,13380,13702,14023,13959];

// histogram, 5 m/s bins, centres
const binCentres = [-37.5,-32.5,-27.5,-22.5,-17.5,-12.5,-7.5,-2.5,2.5,7.5,12.5,17.5,22.5,27.5,32.5,37.5,42.5,47.5,52.5,57.5,62.5,67.5,72.5];
const uCounts = [0,0,0,0,2,6,126,267,442,513,481,432,620,513,446,221,175,137,109,126,45,8,2];
const vCounts = [22,12,77,130,179,425,698,653,1025,639,318,325,77,62,18,22,2,0,0,0,0,0,0];

const FONT = "'DejaVu Sans', sans-serif";
const RED = "#c0392b";
const GRID = "rgba(128,128,128,0.25)";
Chart.defaults.font.family = FONT;
Chart.defaults.font.size = 13.9;
Chart.defaults.color = "#000";
Chart.defaults.animation = false;

document.getElementById("infoPanel").innerHTML = infoLines
  .map(([text, size, y, color, dx]) => `<div class="info" style="top:${y}px;margin-left:${dx}px;font-size:${size}px;color:${color}">${text}</div>`)
  .join("");

// axes keep a fixed gutter so the plot boxes land where the figure has them
function fixedGutter(size) {
  return (scale) => {
    if (scale.isHorizontal()) scale.height = size;
    else scale.width = size;
    scale.paddingLeft = scale.paddingRight = scale.paddingTop = scale.paddingBottom = 0;
  };
}

const framePlugin = {
  id: "frame",
  beforeDraw(chart, args, opts) {
    if (!opts.fill) return;
    const a = chart.chartArea;
    chart.ctx.fillStyle = opts.fill;
    chart.ctx.fillRect(a.left, a.top, a.right - a.left, a.bottom - a.top);
  },
  afterDraw(chart) {
    const a = chart.chartArea;
    chart.ctx.strokeStyle = "#000";
    chart.ctx.lineWidth = 1.3;
    chart.ctx.strokeRect(a.left, a.top, a.right - a.left, a.bottom - a.top);
  }
};
Chart.register(framePlugin);

const plainTick = (v) => String(v).replace("-", "−");

// tickList: values to show, titleAt: distance of the axis title from the outer edge
function axis(gutter, label, tickList, titleAt, opts) {
  const isLeft = opts && opts.left;
  return Object.assign({
    type: "linear",
    offset: false,
    afterFit: fixedGutter(gutter),
    afterBuildTicks: (s) => { s.ticks = tickList.map((v) => ({ value: v })); },
    border: { display: false },
    grid: { offset: false, color: GRID, lineWidth: 1.3, tickColor: "#000", tickLength: 5, tickWidth: 1.1 },
    ticks: { autoSkip: false, padding: isLeft ? 3 : 2, maxRotation: 0, callback: plainTick },
    title: { display: !!label, text: label, font: { size: 13.9 }, padding: isLeft ? { top: titleAt, bottom: 0 } : { top: 0, bottom: titleAt } }
  }, opts);
}

function dateAxis(gutter, label, titleAt) {
  const a = axis(gutter, label, monthDays, titleAt, { min: -6.44, max: 195.2 });
  a.afterBuildTicks = (s) => {
    s.ticks = monthDays.map((v) => ({ value: v }));
    // matplotlib centres rotated labels under the tick
    s._getXAxisLabelAlignment = () => "center";
  };
  a.ticks = { autoSkip: false, minRotation: 20, maxRotation: 20, padding: 10.5, callback: (v, i) => monthLabels[i] };
  return a;
}

function baseOptions(title, padRight, x, y, extra) {
  return {
    responsive: false,
    animation: false,
    layout: { padding: { right: padRight } },
    scales: { x, y },
    plugins: Object.assign({
      legend: { display: false },
      tooltip: { enabled: false },
      title: { display: true, text: title, fullSize: false, color: "#000", font: { size: 16.67, weight: "normal" }, padding: { top: 4, bottom: 2 } }
    }, extra || {})
  };
}

const pointsOf = (pairs) => pairs.map((p) => (p ? { x: p[0], y: p[1] } : { x: null, y: null }));
const rowsToPoints = (rows) => rows.flatMap(([d, ...vals]) => vals.map((v) => ({ x: d, y: v })));

// filled star for the last-fix marker
const starCanvas = document.createElement("canvas");
starCanvas.width = starCanvas.height = 26;
(function () {
  const c = starCanvas.getContext("2d");
  c.beginPath();
  for (let i = 0; i < 10; i++) {
    const r = i % 2 ? 4.7 : 11.5;
    const t = -Math.PI / 2 + i * Math.PI / 5;
    c[i ? "lineTo" : "moveTo"](13 + r * Math.cos(t), 13.5 + r * Math.sin(t));
  }
  c.closePath();
  c.fillStyle = "#2471a3";
  c.fill();
  c.lineWidth = 1.4;
  c.strokeStyle = "#000";
  c.stroke();
})();

const LAND = "#e8e8e3";
const OCEAN = "#d4e6f1";
const shapeSet = (pts, fill, order) => ({
  data: pointsOf(pts), showLine: true, fill: "shape", backgroundColor: fill,
  borderColor: "rgba(170,175,178,0.8)", borderWidth: 0.8, pointRadius: 0, order
});
const mapGrid = { color: "rgba(128,128,128,0.25)", lineWidth: 0.8, tickColor: "#000", tickLength: 5, tickWidth: 1.1, z: 1 };
const mapBorder = { display: false, dash: [2, 2] };

new Chart(document.getElementById("mapChart"), {
  type: "scatter",
  data: {
    datasets: [
      { data: [{ x: lastFixPoint[0], y: lastFixPoint[1] }], pointStyle: starCanvas, pointRadius: 13, order: 0 },
      { data: [{ x: launchPoint[0], y: launchPoint[1] }], pointRadius: 7.7, backgroundColor: "#27ae60", borderColor: "#000", borderWidth: 1.3, order: 1 },
      {
        data: trackSegments.flatMap((seg) => {
          const pts = [];
          for (let i = 0; i < seg.length; i += 2) pts.push({ x: seg[i], y: seg[i + 1] });
          pts.push({ x: null, y: null });
          return pts;
        }),
        showLine: true, spanGaps: false, borderColor: RED, backgroundColor: RED, borderWidth: 4.4,
        borderCapStyle: "round", borderJoinStyle: "round", pointRadius: 2.4, pointBorderWidth: 0, order: 2
      },
      { data: pointsOf(countryLines), showLine: true, spanGaps: false, borderColor: "rgba(190,192,192,0.45)", borderWidth: 0.7, pointRadius: 0, order: 3 },
      shapeSet(caspian, OCEAN, 4),
      shapeSet(greatLakes, OCEAN, 4),
      ...landShapes.map((s) => shapeSet(s, LAND, 5))
    ]
  },
  options: baseOptions("Flight Track", 15,
    axis(44, "Longitude (deg)", lonTicks, 0, { min: -180, max: 180, grid: mapGrid, border: mapBorder }),
    axis(83.3, "Latitude (deg)", latTicks, 22, { left: true, min: -90, max: 90, grid: mapGrid, border: mapBorder }),
    { frame: { fill: OCEAN } })
});

new Chart(document.getElementById("windChart"), {
  type: "scatter",
  data: {
    datasets: [
      { data: windMeanDays.map((d, i) => ({ x: d, y: windMean[i] })), showLine: true, borderColor: RED, borderWidth: 1.9, pointRadius: 0, order: 1 },
      { data: rowsToPoints(windDots).concat(rowsToPoints(windDotsThick)), backgroundColor: "#2f4358", pointRadius: 2.3, pointBorderWidth: 0, order: 2 },
      { type: "bar", data: windBand.map(([d, lo, hi]) => ({ x: d, y: [lo, hi] })), backgroundColor: "#d5dcde", barThickness: 3.5, grouped: false, order: 3 }
    ]
  },
  options: baseOptions("Wind Speed vs. Time", 15,
    dateAxis(48, "", 0),
    axis(83.3, "Wind speed (m s⁻¹)", windTicks, 29, { left: true, min: 0, max: 76.5 }))
});

new Chart(document.getElementById("latChart"), {
  type: "scatter",
  data: { datasets: [{ data: rowsToPoints(latDots), backgroundColor: "#000", pointRadius: 2.6, pointBorderWidth: 0 }] },
  options: baseOptions("Latitude vs. Time", 22,
    dateAxis(48, "", 0),
    axis(65, "Latitude (deg)", latTicks, 3.4, { left: true, min: -90, max: 90 }))
});

new Chart(document.getElementById("altChart"), {
  type: "scatter",
  data: {
    datasets: [
      { data: altMeanDays.map((d, i) => ({ x: d, y: altMean[i] })), showLine: true, borderColor: RED, borderWidth: 1.9, pointRadius: 0, order: 1 },
      { data: rowsToPoints(altDots).concat(rowsToPoints(altDotsThick)), backgroundColor: "#7f8c8d", pointRadius: 2.2, pointBorderWidth: 0, order: 2 }
    ]
  },
  options: baseOptions("Balloon Altitude vs. Time", 15,
    dateAxis(70, "UTC date", 3),
    axis(83.3, "Altitude (m AMSL)", altTicks, 8, { left: true, min: 11858, max: 14548 }))
});

new Chart(document.getElementById("histChart"), {
  type: "bar",
  data: {
    datasets: [
      { label: "U (zonal)", data: binCentres.map((c, i) => ({ x: c, y: uCounts[i] })), backgroundColor: "rgba(31,119,180,0.65)", borderColor: "rgba(0,0,0,0.65)", borderWidth: 1.3, order: 2 },
      { label: "V (meridional)", data: binCentres.map((c, i) => ({ x: c, y: vCounts[i] })), backgroundColor: "rgba(255,127,14,0.65)", borderColor: "rgba(0,0,0,0.65)", borderWidth: 1.3, order: 1 }
    ]
  },
  options: Object.assign(baseOptions("U and V Wind Components", 22,
    axis(50, "Wind speed (m s⁻¹)", histXTicks, 0.7, { min: -100, max: 100 }),
    axis(65, "Frequency", histYTicks, 0, { left: true, min: 0, max: 1080 })),
    { datasets: { bar: { grouped: false, barPercentage: 1, categoryPercentage: 1 } } })
});
</script>
</body>
</html>
